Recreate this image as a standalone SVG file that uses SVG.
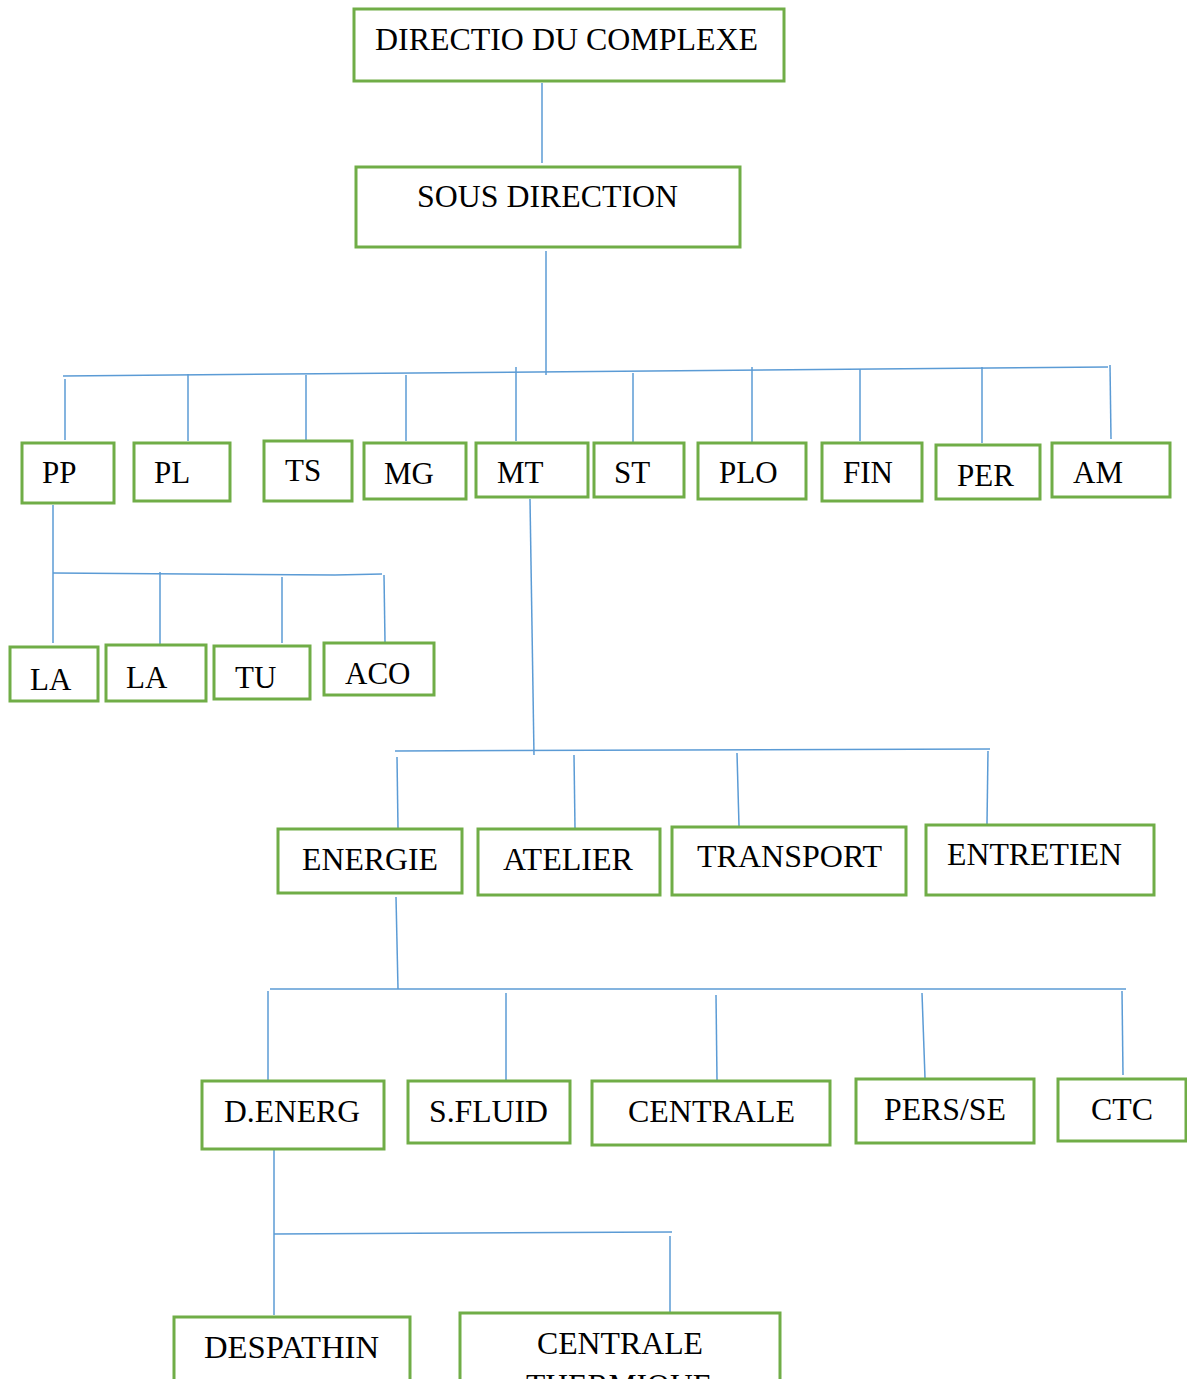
<svg xmlns="http://www.w3.org/2000/svg" width="1187" height="1379" viewBox="0 0 1187 1379">
<style>
.box{fill:#fff;stroke:#70AD47;stroke-width:3}
.t{font-family:"Liberation Serif","Times New Roman",serif;font-size:31px;fill:#000}
.c line{stroke:#5B9BD5;stroke-width:1.5}
</style>
<rect width="1187" height="1379" fill="#fff"/>
<g class="c" id="connectors">
<line x1="542" y1="83" x2="542" y2="163"/>
<line x1="546" y1="251" x2="546" y2="375"/>
<line x1="63" y1="376" x2="1108" y2="367"/>
<line x1="65" y1="379" x2="65" y2="440"/>
<line x1="188" y1="374" x2="188" y2="441"/>
<line x1="306" y1="375" x2="306" y2="441"/>
<line x1="406" y1="375" x2="406" y2="441"/>
<line x1="516" y1="367" x2="516" y2="441"/>
<line x1="633" y1="373" x2="633" y2="442"/>
<line x1="752" y1="367" x2="752" y2="442"/>
<line x1="860" y1="369" x2="860" y2="441"/>
<line x1="982" y1="367" x2="982" y2="443"/>
<line x1="1110" y1="365" x2="1111" y2="439"/>
<line x1="53" y1="505" x2="53" y2="643"/>
<line x1="53" y1="573" x2="335" y2="575"/>
<line x1="335" y1="575" x2="382" y2="574"/>
<line x1="160" y1="572" x2="160" y2="644"/>
<line x1="282" y1="577" x2="282" y2="643"/>
<line x1="384" y1="575" x2="385" y2="642"/>
<line x1="530" y1="499" x2="534" y2="755"/>
<line x1="395" y1="751" x2="990" y2="749"/>
<line x1="397" y1="757" x2="398" y2="828"/>
<line x1="574" y1="755" x2="575" y2="828"/>
<line x1="737" y1="753" x2="739" y2="826"/>
<line x1="988" y1="751" x2="987" y2="824"/>
<line x1="396" y1="897" x2="398" y2="989"/>
<line x1="270" y1="989" x2="1126" y2="989"/>
<line x1="268" y1="991" x2="268" y2="1080"/>
<line x1="506" y1="993" x2="506" y2="1080"/>
<line x1="716" y1="995" x2="717" y2="1080"/>
<line x1="922" y1="993" x2="925" y2="1078"/>
<line x1="1122" y1="991" x2="1123" y2="1075"/>
<line x1="274" y1="1138" x2="274" y2="1315"/>
<line x1="274" y1="1234" x2="672" y2="1232"/>
<line x1="670" y1="1236" x2="670" y2="1312"/>
</g>
<g id="n-direction"><rect class="box" x="354" y="9" width="430" height="72"/><text class="t" x="375" y="50" textLength="383" lengthAdjust="spacingAndGlyphs">DIRECTIO DU COMPLEXE</text></g>
<g id="n-sous"><rect class="box" x="356" y="167" width="384" height="80"/><text class="t" x="417" y="207" textLength="261" lengthAdjust="spacingAndGlyphs">SOUS DIRECTION</text></g>
<g id="n-pp"><rect class="box" x="22" y="443" width="92" height="60"/><text class="t" x="42" y="483">PP</text></g>
<g id="n-pl"><rect class="box" x="134" y="443" width="96" height="58"/><text class="t" x="154" y="483">PL</text></g>
<g id="n-ts"><rect class="box" x="264" y="441" width="88" height="60"/><text class="t" x="285" y="481">TS</text></g>
<g id="n-mg"><rect class="box" x="364" y="443" width="102" height="56"/><text class="t" x="384" y="484">MG</text></g>
<g id="n-mt"><rect class="box" x="476" y="443" width="112" height="54"/><text class="t" x="497" y="483">MT</text></g>
<g id="n-st"><rect class="box" x="594" y="443" width="90" height="54"/><text class="t" x="614" y="483">ST</text></g>
<g id="n-plo"><rect class="box" x="698" y="443" width="108" height="56"/><text class="t" x="719" y="483">PLO</text></g>
<g id="n-fin"><rect class="box" x="822" y="443" width="100" height="58"/><text class="t" x="843" y="483">FIN</text></g>
<g id="n-per"><rect class="box" x="936" y="445" width="104" height="54"/><text class="t" x="957" y="486">PER</text></g>
<g id="n-am"><rect class="box" x="1052" y="443" width="118" height="54"/><text class="t" x="1073" y="483">AM</text></g>
<g id="n-la1"><rect class="box" x="10" y="647" width="88" height="54"/><text class="t" x="30" y="690">LA</text></g>
<g id="n-la2"><rect class="box" x="106" y="645" width="100" height="56"/><text class="t" x="126" y="688">LA</text></g>
<g id="n-tu"><rect class="box" x="214" y="646" width="96" height="53"/><text class="t" x="235" y="688">TU</text></g>
<g id="n-aco"><rect class="box" x="324" y="643" width="110" height="52"/><text class="t" x="345" y="684">ACO</text></g>
<g id="n-energie"><rect class="box" x="278" y="829" width="184" height="64"/><text class="t" x="302" y="870" textLength="136" lengthAdjust="spacingAndGlyphs">ENERGIE</text></g>
<g id="n-atelier"><rect class="box" x="478" y="829" width="182" height="66"/><text class="t" x="503" y="870" textLength="130" lengthAdjust="spacingAndGlyphs">ATELIER</text></g>
<g id="n-transport"><rect class="box" x="672" y="827" width="234" height="68"/><text class="t" x="697" y="867" textLength="185" lengthAdjust="spacingAndGlyphs">TRANSPORT</text></g>
<g id="n-entretien"><rect class="box" x="926" y="825" width="228" height="70"/><text class="t" x="947" y="865" textLength="175" lengthAdjust="spacingAndGlyphs">ENTRETIEN</text></g>
<g id="n-denerg"><rect class="box" x="202" y="1081" width="182" height="68"/><text class="t" x="224" y="1122" textLength="136" lengthAdjust="spacingAndGlyphs">D.ENERG</text></g>
<g id="n-sfluid"><rect class="box" x="408" y="1081" width="162" height="62"/><text class="t" x="429" y="1122" textLength="119" lengthAdjust="spacingAndGlyphs">S.FLUID</text></g>
<g id="n-centrale"><rect class="box" x="592" y="1081" width="238" height="64"/><text class="t" x="628" y="1122" textLength="167" lengthAdjust="spacingAndGlyphs">CENTRALE</text></g>
<g id="n-persse"><rect class="box" x="856" y="1079" width="178" height="64"/><text class="t" x="884" y="1120" textLength="122" lengthAdjust="spacingAndGlyphs">PERS/SE</text></g>
<g id="n-ctc"><rect class="box" x="1058" y="1079" width="128" height="62"/><text class="t" x="1091" y="1120" textLength="62" lengthAdjust="spacingAndGlyphs">CTC</text></g>
<g id="n-despathin"><rect class="box" x="174" y="1317" width="236" height="80"/><text class="t" x="204" y="1358" textLength="175" lengthAdjust="spacingAndGlyphs">DESPATHIN</text></g>
<g id="n-centrale-thermique"><rect class="box" x="460" y="1313" width="320" height="90"/><text class="t" x="537" y="1354" textLength="166" lengthAdjust="spacingAndGlyphs">CENTRALE</text><text class="t" x="526" y="1396" textLength="186" lengthAdjust="spacingAndGlyphs">THERMIQUE</text></g>
</svg>
